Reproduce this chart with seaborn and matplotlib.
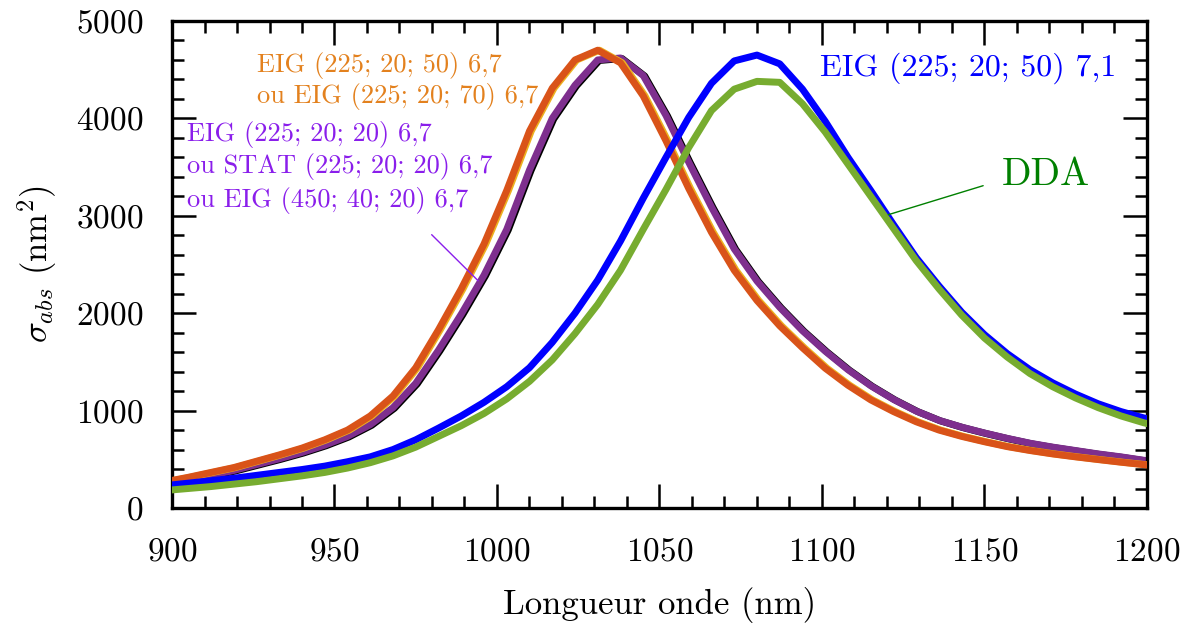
import matplotlib
matplotlib.use("Agg")
import matplotlib.pyplot as plt
import matplotlib.patheffects as pe
from matplotlib.ticker import MultipleLocator
import seaborn as sns

# ---------------- data ----------------
wavelength = [898, 905, 912, 919, 926, 933, 940, 947, 954, 961, 968, 975, 982, 989,
              996, 1003, 1010, 1017, 1024, 1031, 1038, 1045, 1052, 1059, 1066, 1073,
              1080, 1087, 1094, 1101, 1108, 1115, 1122, 1129, 1136, 1143, 1150, 1157,
              1164, 1171, 1178, 1185, 1192, 1199, 1206]

# EIG (225; 20; 50) 6,7  / EIG (225; 20; 70) 6,7
eig_225_20_50_67 = [270, 315, 365, 415, 480, 545, 615, 700, 800, 945, 1150, 1440, 1830, 2250,
                    2710, 3260, 3870, 4310, 4600, 4700, 4570, 4230, 3770, 3280, 2830, 2440,
                    2130, 1870, 1645, 1435, 1260, 1110, 990, 885, 800, 735, 680, 630,
                    590, 555, 525, 497, 470, 445, 425]

# EIG (225; 20; 20) 6,7 / STAT (225; 20; 20) 6,7 / EIG (450; 40; 20) 6,7
eig_225_20_20_67 = [250, 290, 335, 385, 445, 505, 570, 645, 735, 855, 1030, 1280, 1620, 1990,
                    2390, 2860, 3470, 4000, 4340, 4600, 4620, 4440, 4030, 3550, 3090, 2660,
                    2330, 2060, 1820, 1610, 1420, 1255, 1115, 995, 900, 830, 770, 715,
                    665, 625, 590, 555, 525, 490, 465]

# EIG (225; 20; 50) 7,1
eig_225_20_50_71 = [230, 255, 280, 305, 335, 365, 395, 430, 475, 525, 600, 700, 820, 945,
                    1085, 1245, 1440, 1700, 2000, 2340, 2740, 3180, 3600, 4010, 4360, 4590,
                    4650, 4560, 4300, 3970, 3600, 3260, 2910, 2570, 2280, 2010, 1780, 1585,
                    1420, 1285, 1170, 1070, 990, 925, 870]

# DDA
dda = [180, 200, 220, 245, 270, 300, 330, 365, 410, 465, 535, 625, 735, 845,
       970, 1120, 1300, 1520, 1790, 2090, 2440, 2860, 3270, 3700, 4080, 4300,
       4380, 4370, 4150, 3860, 3530, 3200, 2870, 2540, 2250, 1980, 1745, 1550,
       1380, 1245, 1130, 1030, 945, 875, 820]

x_ticks = [900, 950, 1000, 1050, 1100, 1150, 1200]
y_ticks = [0, 1000, 2000, 3000, 4000, 5000]

# ---------------- style ----------------
sns.set_theme(style="ticks")
plt.rcParams["font.family"] = ["cmr10", "DejaVu Serif"]
plt.rcParams["mathtext.fontset"] = "cm"
plt.rcParams["axes.formatter.use_mathtext"] = True
plt.rcParams["axes.unicode_minus"] = False

fig = plt.figure(figsize=(12.02, 6.28), dpi=100)
ax = fig.add_axes([0.1431, 0.1911, 0.8111, 0.7755])

LW = 5.0
sns.lineplot(x=wavelength, y=eig_225_20_20_67, ax=ax, color="#7E2F8E", lw=LW, zorder=2,
             path_effects=[pe.SimpleLineShadow(offset=(1.1, -0.4), shadow_color="black", alpha=1),
                           pe.Normal()])
sns.lineplot(x=wavelength, y=eig_225_20_50_67, ax=ax, color="#D95319", lw=LW, zorder=3,
             path_effects=[pe.SimpleLineShadow(offset=(1.3, 0), shadow_color="#EDB120", alpha=1),
                           pe.Normal()])
sns.lineplot(x=wavelength, y=eig_225_20_50_71, ax=ax, color="#0000FF", lw=LW, zorder=4)
sns.lineplot(x=wavelength, y=dda, ax=ax, color="#77AC30", lw=LW, zorder=5)

ax.set_xlim(900, 1200)
ax.set_ylim(0, 5000)
ax.set_xticks(x_ticks)
ax.set_yticks(y_ticks)
ax.xaxis.set_minor_locator(MultipleLocator(10))
ax.yaxis.set_minor_locator(MultipleLocator(200))
ax.tick_params(which="both", direction="in", top=True, right=True, colors="black",
               width=1.8, labelsize=24, pad=21)
ax.tick_params(which="major", length=17)
ax.tick_params(which="minor", length=8.5)
for s in ax.spines.values():
    s.set_linewidth(2.4)
    s.set_color("black")

ax.set_xlabel("Longueur onde (nm)", fontsize=25, labelpad=15, color="black")
ax.set_ylabel(r"$\sigma_{abs}$ (nm$^2$)", fontsize=25, labelpad=12, color="black")

# ---------------- annotations ----------------
orange_txt = "#E3811E"
purple_txt = "#8A1EEB"
ax.text(926.2, 4548, "EIG (225; 20; 50) 6,7", color=orange_txt, fontsize=19, va="center", ha="left")
ax.text(926.2, 4220, "ou EIG (225; 20; 70) 6,7", color=orange_txt, fontsize=19, va="center", ha="left")
ax.text(904.6, 3830, "EIG (225; 20; 20) 6,7", color=purple_txt, fontsize=19, va="center", ha="left")
ax.text(904.6, 3504, "ou STAT (225; 20; 20) 6,7", color=purple_txt, fontsize=19, va="center", ha="left")
ax.text(904.6, 3162, "ou EIG (450; 40; 20) 6,7", color=purple_txt, fontsize=19, va="center", ha="left")
ax.annotate("", xy=(994.2, 2333), xytext=(979.9, 2806),
            arrowprops=dict(arrowstyle="-", color=purple_txt, lw=1.0, shrinkA=0, shrinkB=0), zorder=6)

ax.text(1099.4, 4517, "EIG (225; 20; 50) 7,1", color="#0000FF", fontsize=23, va="center", ha="left")
ax.text(1155.4, 3419, "DDA", color="#008000", fontsize=28, va="center", ha="left")
ax.annotate("", xy=(1120.4, 3011), xytext=(1149.6, 3309),
            arrowprops=dict(arrowstyle="-", color="#008000", lw=1.0, shrinkA=0, shrinkB=0), zorder=6)

fig.savefig("out.png", dpi=100)
